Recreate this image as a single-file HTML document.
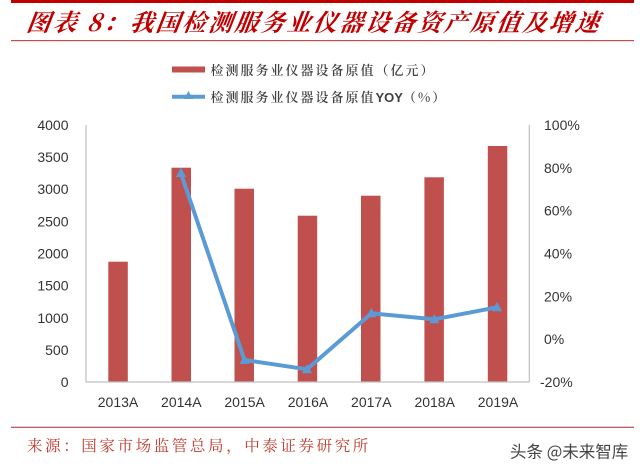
<!DOCTYPE html>
<html><head><meta charset="utf-8"><style>
html,body{margin:0;padding:0;background:#fff;}
body{width:640px;height:474px;overflow:hidden;}
svg{display:block;}
</style></head><body>
<svg width="640" height="474" viewBox="0 0 640 474" xmlns="http://www.w3.org/2000/svg">
<rect x="0" y="0" width="640" height="474" fill="#fff"/>
<!-- top bar -->
<rect x="11" y="0" width="623" height="3" fill="#c00000"/>
<!-- title -->
<text x="26" y="31" font-family="'Noto Serif CJK SC','WenQuanYi Zen Hei',serif" font-size="24" font-weight="bold" font-style="italic" fill="#c00000" letter-spacing="2.2" transform="skewX(-8) translate(4,0)">图表 8：我国检测服务业仪器设备资产原值及增速</text>
<rect x="11" y="40" width="623" height="1.2" fill="#c0504d"/>
<!-- legend -->
<rect x="172" y="66.5" width="33" height="6" fill="#c0504d"/>
<text x="210.5" y="75" font-family="'Noto Serif CJK SC',serif" font-size="13" font-weight="600" fill="#404040" letter-spacing="2.0">检测服务业仪器设备原值（亿元）</text>
<line x1="172" y1="96.7" x2="205" y2="96.7" stroke="#5b9bd5" stroke-width="4"/>
<polygon points="188.5,91 184,99 193,99" fill="#5b9bd5"/>
<text x="210.5" y="102" font-family="'Noto Serif CJK SC',serif" font-size="13" font-weight="600" fill="#404040" letter-spacing="2.0">检测服务业仪器设备原值<tspan font-family="'Liberation Sans',sans-serif" letter-spacing="0" font-size="13">YOY</tspan>（%）</text>
<!-- axes -->
<line x1="86" y1="125" x2="86" y2="382" stroke="#bfbfbf" stroke-width="1.2"/>
<line x1="529.3" y1="125" x2="529.3" y2="382" stroke="#bfbfbf" stroke-width="1.2"/>
<!-- bars -->
<g fill="#c0504d">
<rect x="108.3" y="261.7" width="19.5" height="120.3"/>
<rect x="171.5" y="167.7" width="19.5" height="214.3"/>
<rect x="234.5" y="188.7" width="19.5" height="193.3"/>
<rect x="297.7" y="215.7" width="19.5" height="166.3"/>
<rect x="361" y="195.7" width="19.5" height="186.3"/>
<rect x="424.4" y="177.3" width="19.5" height="204.7"/>
<rect x="487.8" y="146" width="19.5" height="236"/>
</g>
<line x1="86" y1="382" x2="529.3" y2="382" stroke="#bfbfbf" stroke-width="1.2"/>
<!-- line series -->
<polyline points="181,173.5 244.5,360 307,369.3 371.5,313.3 434.3,319.3 497,307.3" fill="none" stroke="#5b9bd5" stroke-width="4" stroke-linejoin="round" stroke-linecap="round"/>
<g fill="#5b9bd5">
<polygon points="181,167.5 176,177 186,177"/>
<polygon points="244.5,354.5 239.5,364 249.5,364"/>
<polygon points="307,363.8 302,373.3 312,373.3"/>
<polygon points="371.5,307.8 366.5,317.3 376.5,317.3"/>
<polygon points="434.3,313.8 429.3,323.3 439.3,323.3"/>
<polygon points="497,301.8 492,311.3 502,311.3"/>
</g>
<!-- left labels -->
<g font-family="'Liberation Sans',sans-serif" font-size="14" fill="#333" text-anchor="end">
<text x="68.5" y="130">4000</text>
<text x="68.5" y="162.1">3500</text>
<text x="68.5" y="194.2">3000</text>
<text x="68.5" y="226.4">2500</text>
<text x="68.5" y="258.5">2000</text>
<text x="68.5" y="290.6">1500</text>
<text x="68.5" y="322.8">1000</text>
<text x="68.5" y="354.9">500</text>
<text x="68.5" y="387">0</text>
</g>
<!-- right labels -->
<g font-family="'Liberation Sans',sans-serif" font-size="14" fill="#333">
<text x="544" y="130">100%</text>
<text x="544" y="172.8">80%</text>
<text x="544" y="215.7">60%</text>
<text x="544" y="258.5">40%</text>
<text x="544" y="301.3">20%</text>
<text x="544" y="344.2">0%</text>
<text x="540" y="387">-20%</text>
</g>
<!-- x labels -->
<g font-family="'Liberation Sans',sans-serif" font-size="14" fill="#333" text-anchor="middle">
<text x="118" y="407">2013A</text>
<text x="181.3" y="407">2014A</text>
<text x="244.6" y="407">2015A</text>
<text x="308" y="407">2016A</text>
<text x="371.3" y="407">2017A</text>
<text x="434.7" y="407">2018A</text>
<text x="498" y="407">2019A</text>
</g>
<!-- footer -->
<rect x="11" y="426.7" width="623" height="1.2" fill="#b0505a"/>
<text x="27" y="451" font-family="'Noto Serif CJK SC',serif" font-size="15.5" fill="#c0392b" letter-spacing="2.6">来源：国家市场监管总局，中泰证券研究所</text>
<text x="510" y="457.5" font-family="'Noto Sans CJK SC','Liberation Sans',sans-serif" font-size="16.5" fill="#444">头条 @未来智库</text>
</svg>
</body></html>
